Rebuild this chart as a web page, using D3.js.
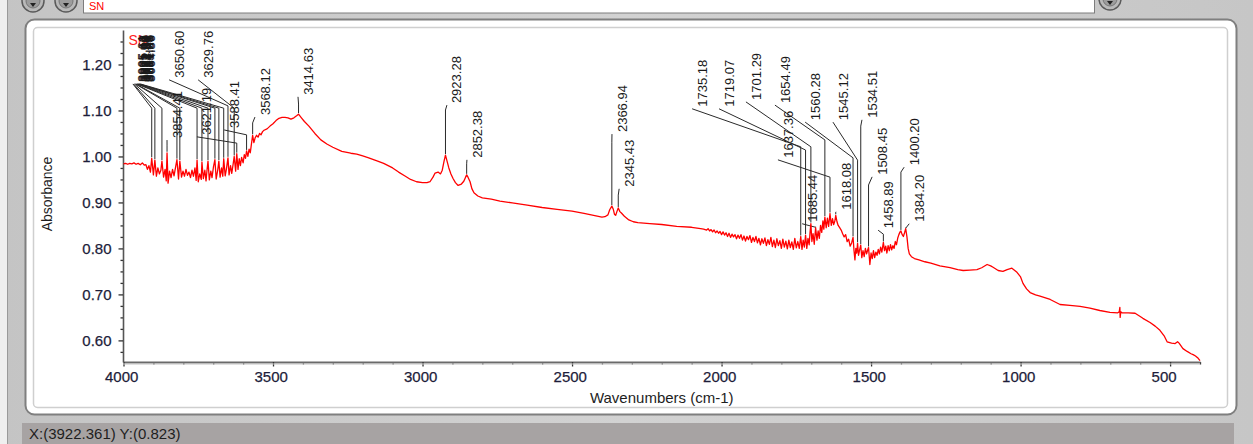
<!DOCTYPE html>
<html><head><meta charset="utf-8">
<script src="https://cdn.jsdelivr.net/npm/d3@7"></script>
<style>
html,body{margin:0;padding:0;background:#fff;overflow:hidden;}
svg{display:block;font-family:"Liberation Sans",Arial,sans-serif;}
</style></head><body>
<svg id="c" width="1253" height="444"></svg>
<script>
// ---------------- DATA ----------------
const xTicks = [4000, 3500, 3000, 2500, 2000, 1500, 1000, 500];
const yTicks = [0.60, 0.70, 0.80, 0.90, 1.00, 1.10, 1.20];
const xTitle = "Wavenumbers (cm-1)";
const yTitle = "Absorbance";
const sampleName = "SN";
const statusText = "X:(3922.361) Y:(0.823)";

// spectrum, [wavenumber, absorbance]
const spectrumEdge = [[4000,0.984],[3993,0.985],[3986,0.983],[3979,0.985],[3972,0.984],[3965,0.986],[3958,0.983],[3951,0.985],[3944,0.982],[3937,0.986],[3930,0.981]];
const spectrumOH = [[3925,0.982],[3920,0.972],[3915,0.980],[3910,0.966],[3905.61,0.996],[3900,0.960],[3895.12,0.992],[3890,0.957],[3885,0.975],[3880,0.962],[3875,0.970],[3871.47,0.990],[3866,0.955],[3861,0.972],[3857,0.947],[3854.41,1.008],[3851,0.942],[3846,0.968],[3841,0.954],[3836,0.972],[3831,0.958],[3826,0.976],[3821.30,0.993],[3816,0.951],[3811.58,0.990],[3806,0.955],[3801,0.968],[3796,0.957],[3791,0.972],[3786,0.959],[3781,0.966],[3776,0.954],[3771,0.970],[3766,0.957],[3761,0.975],[3757,0.948],[3754.02,0.992],[3750,0.945],[3745,0.962],[3740,0.950],[3737.71,0.988],[3733,0.952],[3728,0.970],[3724,0.947],[3720,0.975],[3717.45,0.990],[3713,0.949],[3708,0.968],[3704,0.954],[3699,0.978],[3694.33,0.993],[3690,0.951],[3685,0.970],[3681.09,0.990],[3677,0.955],[3672,0.975],[3668,0.957],[3664.86,0.995],[3660,0.958],[3656,0.972],[3650.60,0.997],[3647,0.960],[3642,0.980],[3638,0.963],[3633,0.985],[3629.76,1.000],[3625,0.968],[3621.19,1.006],[3617,0.972],[3613,0.995],[3609,0.980],[3605,0.998],[3600,0.986]];
const spectrumRise = [[3596,1.004],[3592,0.996],[3588.41,1.012],[3584,1.000],[3580,1.016],[3576,1.008],[3572,1.028],[3568.12,1.046],[3564,1.030],[3560,1.040],[3555,1.046],[3550,1.042],[3545,1.050],[3540,1.047],[3535,1.054],[3530,1.057],[3520,1.060],[3510,1.066],[3500,1.071],[3490,1.078],[3480,1.083],[3470,1.085],[3460,1.085],[3450,1.084],[3440,1.081],[3430,1.084],[3420,1.089],[3414.63,1.092],[3405,1.084],[3395,1.076],[3380,1.066],[3360,1.050],[3340,1.036],[3320,1.027],[3300,1.020],[3270,1.011],[3240,1.007],[3220,1.005],[3200,1.001],[3180,0.997],[3150,0.990],[3130,0.985],[3100,0.975],[3080,0.966],[3060,0.958],[3040,0.950],[3020,0.945],[3000,0.943],[2985,0.943],[2975,0.945],[2965,0.955],[2958,0.964],[2948,0.966],[2940,0.962],[2934,0.970],[2928,0.990],[2923.28,1.003],[2918,0.990],[2912,0.975],[2905,0.962],[2898,0.952],[2890,0.943],[2881,0.937],[2870,0.940],[2862,0.946],[2856,0.955],[2852.38,0.960],[2848,0.955],[2841,0.945],[2835,0.930],[2828,0.921],[2815,0.914],[2800,0.910],[2770,0.907],[2741,0.903],[2700,0.899],[2650,0.894],[2600,0.889],[2550,0.885],[2500,0.881],[2460,0.876],[2420,0.871],[2400,0.868],[2390,0.869],[2380,0.873],[2374,0.884],[2366.94,0.892],[2362,0.885],[2358,0.874],[2354,0.872],[2350,0.880],[2345.43,0.888],[2340,0.880],[2335,0.877],[2325,0.870],[2310,0.862],[2295,0.858],[2280,0.856],[2240,0.854],[2200,0.852],[2150,0.848],[2100,0.846],[2070,0.843]];
const spectrumAmide = [[2060,0.842],[2050,0.840],[2045,0.843],[2040,0.838],[2035,0.841],[2030,0.836],[2025,0.840],[2020,0.834],[2015,0.838],[2010,0.833],[2005,0.837],[2000,0.830],[1995,0.836],[1990,0.829],[1985,0.834],[1980,0.826],[1975,0.833],[1970,0.824],[1965,0.831],[1960,0.825],[1955,0.830],[1950,0.821],[1945,0.829],[1940,0.822],[1935,0.830],[1930,0.818],[1925,0.827],[1920,0.816],[1915,0.826],[1910,0.819],[1905,0.828],[1900,0.813],[1895,0.824],[1890,0.815],[1885,0.826],[1880,0.812],[1875,0.822],[1870,0.808],[1865,0.821],[1860,0.811],[1855,0.823],[1850,0.806],[1845,0.819],[1840,0.809],[1835,0.824],[1830,0.804],[1825,0.818],[1820,0.802],[1815,0.821],[1810,0.806],[1805,0.817],[1800,0.800],[1795,0.820],[1790,0.803],[1785,0.816],[1780,0.799],[1775,0.818],[1770,0.802],[1765,0.814],[1760,0.798],[1755,0.822],[1750,0.801],[1745,0.815],[1740,0.800],[1735.18,0.826],[1731,0.798],[1727,0.818],[1723,0.803],[1719.07,0.829],[1715,0.800],[1711,0.822],[1707,0.808],[1704,0.835],[1701.29,0.854],[1698,0.815],[1694,0.832],[1690,0.809],[1685.44,0.845],[1681,0.818],[1677,0.838],[1673,0.822],[1669,0.850],[1665,0.835],[1661,0.860],[1658,0.842],[1654.49,0.868],[1650,0.845],[1646,0.866],[1642,0.848],[1637.36,0.876],[1633,0.850],[1629,0.865],[1625,0.852],[1621,0.860],[1618.08,0.872],[1614,0.858],[1610,0.850],[1605,0.845],[1600,0.840],[1595,0.832],[1590,0.825],[1585,0.830],[1580,0.815],[1575,0.820],[1570,0.805],[1565,0.812],[1560.28,0.824],[1557,0.795],[1554,0.775],[1551,0.800],[1548,0.790],[1545.12,0.811],[1542,0.785],[1538,0.798],[1534.51,0.807],[1531,0.780],[1527,0.795],[1523,0.782],[1519,0.800],[1515,0.788],[1511,0.797],[1508.45,0.802],[1504,0.765],[1500,0.790],[1496,0.778],[1492,0.795],[1488,0.780],[1484,0.792],[1480,0.785],[1476,0.798],[1472,0.788],[1468,0.803],[1464,0.792],[1458.89,0.813],[1455,0.795],[1451,0.805],[1447,0.790],[1443,0.806],[1439,0.795],[1435,0.808],[1431,0.797],[1427,0.806],[1423,0.800],[1419,0.815],[1415,0.808],[1411,0.822],[1407,0.830],[1403,0.836],[1400.20,0.838],[1396,0.830],[1392,0.826],[1388,0.834],[1384.20,0.843],[1380,0.825],[1376,0.800],[1372,0.788]];
const spectrumTail = [[1365,0.782],[1355,0.778],[1340,0.775],[1320,0.771],[1300,0.768],[1270,0.762],[1236,0.758],[1210,0.754],[1192,0.752],[1170,0.753],[1146,0.754],[1130,0.758],[1112,0.765],[1100,0.762],[1092,0.759],[1075,0.752],[1059,0.750],[1045,0.754],[1029,0.757],[1012,0.748],[1000,0.738],[992,0.724],[980,0.712],[968,0.704],[950,0.699],[935,0.696],[901,0.689],[868,0.678],[835,0.676],[801,0.674],[768,0.670],[735,0.665],[701,0.661],[675,0.660],[670,0.662],[668,0.672],[667,0.650],[665,0.662],[661,0.660],[640,0.660],[617,0.659],[600,0.652],[591,0.648],[567,0.639],[550,0.631],[534,0.622],[520,0.610],[510,0.597],[495,0.594],[483,0.593],[475,0.597],[470,0.594],[457,0.582],[443,0.576],[430,0.571],[423,0.569],[415,0.566],[406,0.561],[400,0.556]];

// labelled peaks (wavenumber)
const peakWn = [3414.63, 3568.12, 3588.41, 3629.76, 3650.60, 3621.19, 3854.41, 2923.28, 2852.38, 2366.94, 2345.43, 1735.18, 1719.07, 1701.29, 1654.49, 1637.36, 1685.44, 1618.08, 1560.28, 1545.12, 1534.51, 1508.45, 1458.89, 1400.20, 1384.20];
// crowded (overlapping) peak labels in the O-H region
const crowdWn = [3905.61, 3895.12, 3871.47, 3821.30, 3811.58, 3754.02, 3737.71, 3717.45, 3694.33, 3681.09, 3664.86];

// annotation placement (data units): label anchor wavenumber, label bottom absorbance, elbow absorbance
const labelWn   = [3383, 3527, 3630, 3717, 3814, 3721, 3821, 2885, 2818, 2333, 2309, 2065, 1975, 1885, 1788, 1778, 1697, 1584, 1687, 1594, 1497, 1463, 1443, 1356, 1339];
const labelAbs  = [1.134, 1.090, 1.062, 1.171, 1.171, 1.047, 1.040, 1.116, 0.997, 1.053, 0.934, 1.108, 1.108, 1.123, 1.116, 0.997, 0.858, 0.884, 1.079, 1.079, 1.084, 0.960, 0.844, 0.981, 0.858];
const elbowAbs  = [1.114, 1.073, 1.047, 1.105, 1.110, 1.029, 1.023, 1.101, 0.984, 1.031, 0.916, 1.021, 1.014, 1.021, 1.036, 0.955, 0.846, 0.879, 0.997, 0.992, 1.066, 0.938, 0.831, 0.966, 0.844];
const crowdLabelWn = [3935, 3933, 3930, 3927, 3925, 3922, 3920, 3918, 3915, 3913, 3910];
const crowdLabelAbs = 1.162;
const crowdElbowAbs = 1.105;

// ---------------- DRAW ----------------
const W = 1253, H = 444;
const svg = d3.select("#c");
const spectrum = [].concat(spectrumEdge, spectrumOH, spectrumRise, spectrumAmide, spectrumTail);

// window chrome
const bgGrad = svg.append("defs").append("linearGradient").attr("id","metal").attr("x1",0).attr("y1",0).attr("x2",1).attr("y2",0);
bgGrad.append("stop").attr("offset","0%").attr("stop-color","#c4c4c4");
bgGrad.append("stop").attr("offset","50%").attr("stop-color","#d2d2d2");
bgGrad.append("stop").attr("offset","100%").attr("stop-color","#c6c6c6");
svg.append("rect").attr("width",W).attr("height",H).attr("fill","url(#metal)");
svg.append("rect").attr("x",0).attr("y",0).attr("width",7).attr("height",H).attr("fill","#efefef");
svg.append("line").attr("x1",7.5).attr("x2",7.5).attr("y1",0).attr("y2",H).attr("stroke","#9a9a9a");
// top toolbar
svg.append("rect").attr("x",83.5).attr("y",-2).attr("width",1011).attr("height",15).attr("fill","#fff").attr("stroke","#7d7d7d");
svg.append("text").attr("x",89).attr("y",10).attr("fill","#ff0000").style("font-size","11px").text(sampleName);
[[33,1],[66,1],[1110,-1]].forEach(([cx,cy])=>{
  svg.append("circle").attr("cx",cx).attr("cy",cy).attr("r",11).attr("fill","#b9b9b9").attr("stroke","#5a5a5a").attr("stroke-width",1.5);
  svg.append("circle").attr("cx",cx).attr("cy",cy).attr("r",7).attr("fill","#9c9c9c").attr("stroke","#777");
  svg.append("path").attr("d",`M${cx-3},${cy+2}L${cx+3},${cy+2}L${cx},${cy+6}Z`).attr("fill","#222");
});
// plot panel
svg.append("rect").attr("x",25.5).attr("y",19.5).attr("width",1211).attr("height",395).attr("rx",9)
  .attr("fill","#fff").attr("stroke","#7f7f7f").attr("stroke-width",2);
svg.append("rect").attr("x",33.5).attr("y",27.5).attr("width",1194).attr("height",380).attr("rx",4)
  .attr("fill","none").attr("stroke","#cfcfcf").attr("stroke-width",1.5);
// status bar
svg.append("rect").attr("x",22).attr("y",423).attr("width",1212).attr("height",21).attr("fill","#a7a3a3");
svg.append("text").attr("x",29).attr("y",439).attr("fill","#1e1e1e").style("font-size","15px").text(statusText);

// scales
const x = d3.scaleLinear().domain([4000, 400]).range([123.5, 1200]);
const y = d3.scaleLinear().domain([0.553, 1.275]).range([362, 30]);

// axes
const minorX = d3.range(4000, 399, -100).filter(v => v % 500 !== 0);
const minorY = d3.range(0.575, 1.27, 0.025).filter(v => Math.abs(Math.round(v*10)-v*10) > 0.01);
const gx = svg.append("g").attr("transform","translate(0,362)");
gx.call(d3.axisBottom(x).tickValues(minorX).tickSize(2.5).tickSizeOuter(0).tickFormat(""));
gx.call(g => g.select(".domain").remove());
const gx2 = svg.append("g").attr("transform","translate(0,362)")
  .call(d3.axisBottom(x).tickValues(xTicks).tickSize(4.5).tickSizeOuter(0).tickPadding(5).tickFormat(d3.format("d")));
gx2.selectAll("text").attr("text-anchor","start").attr("dx",-19);
[gx, gx2].forEach(g => g.selectAll(".tick line").attr("stroke","#333").attr("stroke-width",1.3));
gx2.select(".domain").attr("stroke","#6a6a6a").attr("stroke-width",2.2);
svg.append("line").attr("x1",123).attr("x2",1200).attr("y1",364).attr("y2",364).attr("stroke","#c4c4c4");

const gy = svg.append("g").attr("transform","translate(123,0)");
gy.call(d3.axisLeft(y).tickValues(minorY).tickSize(2.5).tickSizeOuter(0).tickFormat(""));
gy.call(g => g.select(".domain").remove());
const gy2 = svg.append("g").attr("transform","translate(123,0)")
  .call(d3.axisLeft(y).tickValues(yTicks).tickSize(4.5).tickSizeOuter(0).tickPadding(7).tickFormat(d3.format(".2f")));
[gy, gy2].forEach(g => g.selectAll(".tick line").attr("stroke","#333").attr("stroke-width",1.3));
gy2.select(".domain").attr("stroke","#555").attr("stroke-width",1.6);

[gx2, gy2].forEach(g => g.selectAll("text").attr("fill","#1d1d3a").style("font-size","15px")
  .style("font-family","'Liberation Sans',Arial,sans-serif").attr("stroke","#1d1d3a").attr("stroke-width",0.25));

// axis titles
svg.append("text").attr("transform",`translate(52,${(y(0.553)+y(1.275))/2 - 2}) rotate(-90)`)
  .attr("text-anchor","middle").attr("fill","#1e1e1e").style("font-size","14px").text(yTitle);
svg.append("text").attr("x",(x(4000)+x(400))/2).attr("y",403)
  .attr("text-anchor","middle").attr("fill","#1e1e1e").style("font-size","15px").text(xTitle);

// sample name inside the plot
svg.append("text").attr("x",x(4000)+5).attr("y",y(1.275)+15).attr("fill","#ff2020").style("font-size","14px").text(sampleName);

// spectrum lookup
const bis = d3.bisector(d => -d[0]).left;
function specAt(w){
  const i = Math.max(1, Math.min(spectrum.length-1, bis(spectrum, -w)));
  const a = spectrum[i-1], b = spectrum[i];
  const t = (w - a[0]) / (b[0] - a[0]);
  return a[1] + t*(b[1]-a[1]);
}
const fmt = d3.format(".2f");
const ann = svg.append("g");
const leader = d3.line();
function annotate(w, lw, la, ea){
  const px = x(w), lx = x(lw), ly = y(la), ey = y(ea), py = y(specAt(w)) - 1;
  ann.append("path").attr("d", leader([[lx-10, ly+2],[px, ey],[px, py]]))
    .attr("fill","none").attr("stroke","#2a2a2a").attr("stroke-width",1);
  ann.append("text").attr("transform",`translate(${lx},${ly}) rotate(-90)`).attr("dy","0.35em")
    .attr("fill","#1a1a1a").style("font-size","13px").text(fmt(w));
}
crowdWn.forEach((w,i) => annotate(w, crowdLabelWn[i], crowdLabelAbs, crowdElbowAbs));
peakWn.forEach((w,i) => annotate(w, labelWn[i], labelAbs[i], elbowAbs[i]));

// spectrum line
svg.append("path").datum(spectrum)
  .attr("d", d3.line().x(d => x(d[0])).y(d => y(d[1])))
  .attr("fill","none").attr("stroke","#ff0000").attr("stroke-width",1.3).attr("stroke-linejoin","round");
</script>
</body></html>
